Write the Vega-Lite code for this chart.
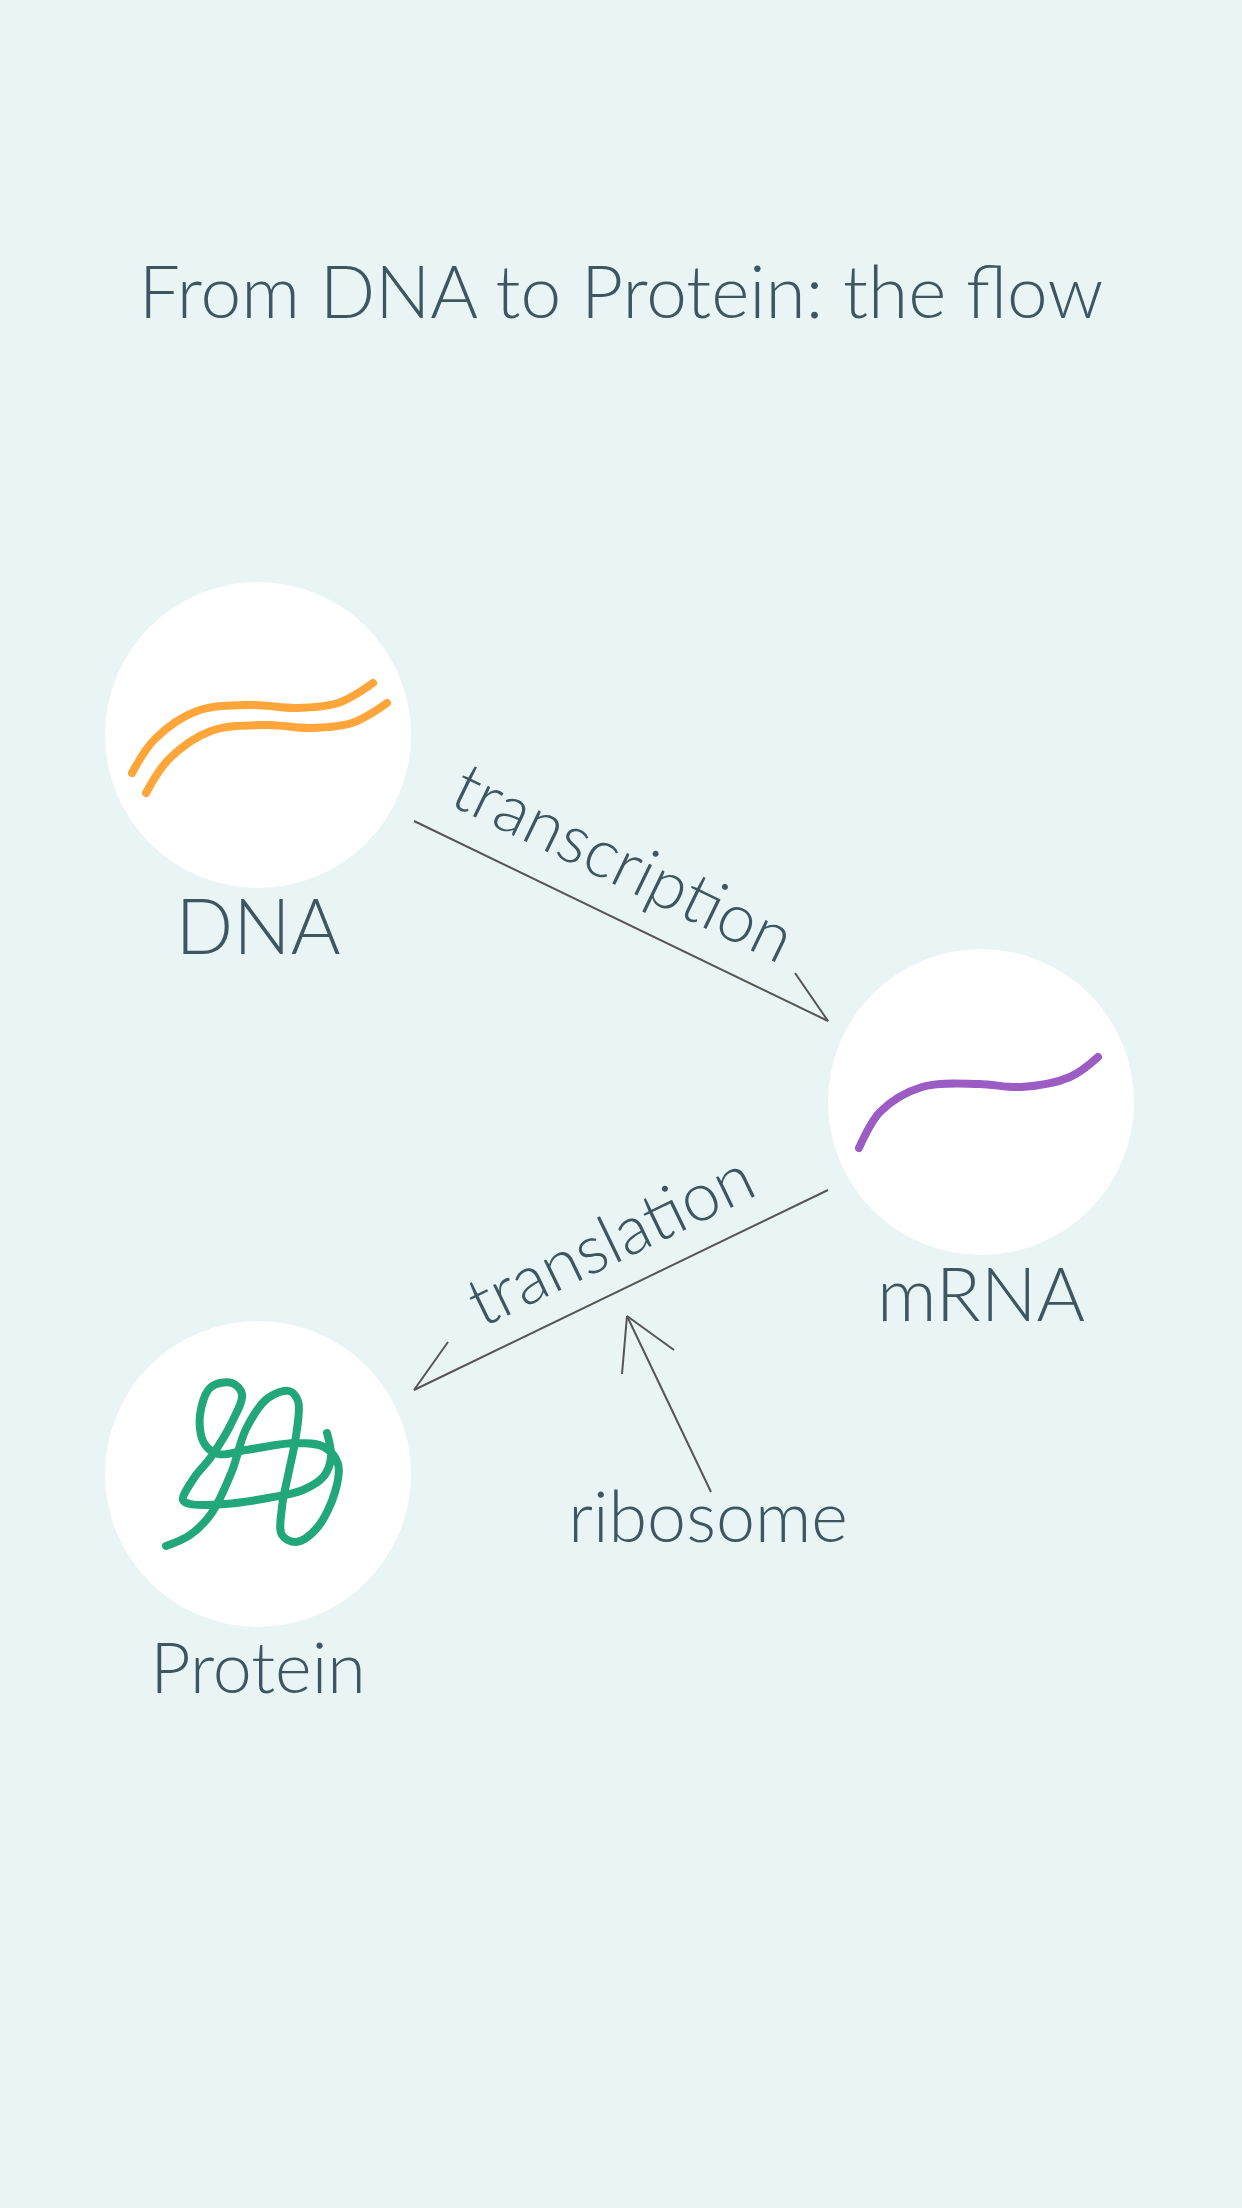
{
"$schema":"https://vega.github.io/schema/vega-lite/v6.json",
"width":1242,"height":2208,"autosize":{"type":"fit","contains":"padding"},"padding":0,
"background":"#e9f5f4",
"config":{"view":{"stroke":null},"font":"Lato"},
"datasets":{
"circles":[{"x":258,"y":735},{"x":981,"y":1102},{"x":258,"y":1474}],
"curves":[
{"g":"d1","o":1,"x":132,"y":773},{"g":"d1","o":2,"x":155,"y":739},{"g":"d1","o":3,"x":197,"y":711},{"g":"d1","o":4,"x":253,"y":705},{"g":"d1","o":5,"x":296,"y":708},{"g":"d1","o":6,"x":338,"y":703},{"g":"d1","o":7,"x":373,"y":683},
{"g":"d2","o":1,"x":146,"y":793},{"g":"d2","o":2,"x":169,"y":759},{"g":"d2","o":3,"x":211,"y":731},{"g":"d2","o":4,"x":267,"y":725},{"g":"d2","o":5,"x":310,"y":728},{"g":"d2","o":6,"x":352,"y":723},{"g":"d2","o":7,"x":387,"y":703},
{"g":"m","o":1,"x":859,"y":1148},{"g":"m","o":2,"x":880,"y":1112},{"g":"m","o":3,"x":922,"y":1087},{"g":"m","o":4,"x":979,"y":1084},{"g":"m","o":5,"x":1021,"y":1087},{"g":"m","o":6,"x":1070,"y":1077},{"g":"m","o":7,"x":1098,"y":1057},
{"g":"p","o":1,"x":166,"y":1546},{"g":"p","o":2,"x":190,"y":1535},{"g":"p","o":3,"x":211,"y":1514},{"g":"p","o":4,"x":232,"y":1471},{"g":"p","o":5,"x":246,"y":1429},{"g":"p","o":6,"x":268,"y":1398},{"g":"p","o":7,"x":289,"y":1391},{"g":"p","o":8,"x":298,"y":1401},{"g":"p","o":9,"x":296,"y":1436},{"g":"p","o":10,"x":289,"y":1471},{"g":"p","o":11,"x":282,"y":1507},{"g":"p","o":12,"x":282,"y":1535},{"g":"p","o":13,"x":296,"y":1542},{"g":"p","o":14,"x":317,"y":1528},{"g":"p","o":15,"x":335,"y":1492},{"g":"p","o":16,"x":338,"y":1464},{"g":"p","o":17,"x":324,"y":1447},{"g":"p","o":18,"x":296,"y":1443},{"g":"p","o":19,"x":246,"y":1450},{"g":"p","o":20,"x":218,"y":1454},{"g":"p","o":21,"x":204,"y":1443},{"g":"p","o":22,"x":200,"y":1415},{"g":"p","o":23,"x":211,"y":1387},{"g":"p","o":24,"x":232,"y":1383},{"g":"p","o":25,"x":242,"y":1394},{"g":"p","o":26,"x":232,"y":1422},{"g":"p","o":27,"x":211,"y":1457},{"g":"p","o":28,"x":194,"y":1478},{"g":"p","o":29,"x":183,"y":1500},{"g":"p","o":30,"x":190,"y":1504},{"g":"p","o":31,"x":225,"y":1504},{"g":"p","o":32,"x":268,"y":1498},{"g":"p","o":33,"x":303,"y":1490},{"g":"p","o":34,"x":324,"y":1476},{"g":"p","o":35,"x":331,"y":1457},{"g":"p","o":36,"x":327,"y":1433}
],
"arrows":[
{"x":414,"y":821,"x2":828,"y2":1021},{"x":828,"y":1021,"x2":795,"y2":973},
{"x":828,"y":1190,"x2":414,"y2":1390},{"x":414,"y":1390,"x2":448,"y2":1342},
{"x":711,"y":1492,"x2":627,"y2":1316},{"x":627,"y":1316,"x2":622,"y2":1374},{"x":627,"y":1316,"x2":674,"y2":1350}
],
"texts":[
{"t":"From DNA to Protein: the flow","x":621,"y":296,"s":73,"a":0},
{"t":"DNA","x":258,"y":931,"s":76,"a":0},
{"t":"mRNA","x":981,"y":1299,"s":74,"a":0},
{"t":"Protein","x":258,"y":1672,"s":70,"a":0},
{"t":"ribosome","x":708,"y":1521,"s":70,"a":0},
{"t":"transcription","x":622,"y":866,"s":68,"a":25.8},
{"t":"translation","x":612,"y":1243,"s":68,"a":-25.8}
]},
"layer":[
{"data":{"name":"circles"},"mark":{"type":"point","shape":"circle","filled":true,"color":"white","opacity":1,"size":93636},
"encoding":{"x":{"field":"x","type":"quantitative","scale":{"domain":[0,1242]},"axis":null},"y":{"field":"y","type":"quantitative","scale":{"domain":[0,2208],"reverse":true},"axis":null}}},
{"data":{"name":"curves"},"mark":{"type":"line","strokeWidth":8,"strokeCap":"round","strokeJoin":"round","interpolate":"catmull-rom"},
"encoding":{"x":{"field":"x","type":"quantitative","scale":{"domain":[0,1242]},"axis":null},"y":{"field":"y","type":"quantitative","scale":{"domain":[0,2208],"reverse":true},"axis":null},"order":{"field":"o"},"detail":{"field":"g"},
"color":{"field":"g","type":"nominal","legend":null,"scale":{"domain":["d1","d2","m","p"],"range":["#ffa53a","#ffa53a","#9b5cc4","#22a77a"]}}}},
{"data":{"name":"arrows"},"mark":{"type":"rule","color":"#555555","strokeWidth":2},
"encoding":{"x":{"field":"x","type":"quantitative","scale":{"domain":[0,1242]},"axis":null},"y":{"field":"y","type":"quantitative","scale":{"domain":[0,2208],"reverse":true},"axis":null},"x2":{"field":"x2"},"y2":{"field":"y2"}}},
{"data":{"name":"texts"},"mark":{"type":"text","color":"#3f5660","fontWeight":300,"baseline":"middle","align":"center"},
"encoding":{"x":{"field":"x","type":"quantitative","scale":{"domain":[0,1242]},"axis":null},"y":{"field":"y","type":"quantitative","scale":{"domain":[0,2208],"reverse":true},"axis":null},"text":{"field":"t"},"size":{"field":"s","type":"quantitative","scale":null},"angle":{"field":"a","type":"quantitative","scale":null}}}
]}
